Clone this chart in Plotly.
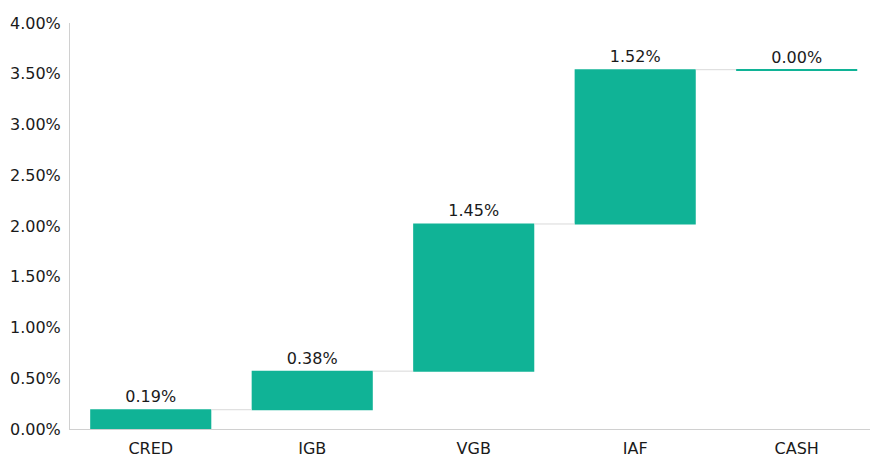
import plotly.graph_objects as go

categories = ["CRED", "IGB", "VGB", "IAF", "CASH"]
values = [0.19, 0.38, 1.45, 1.52, 0.00]
labels = [f"{v:.2f}%" for v in values]
tick_vals = [0, 0.5, 1.0, 1.5, 2.0, 2.5, 3.0, 3.5, 4.0]
tick_text = [f"{t:.2f}%" for t in tick_vals]

green = "#10B396"
FONT = "DejaVu Sans"

# cumulative levels (for marking zero-size steps as a thin line)
cum = []
s = 0.0
for v in values:
    s += v
    cum.append(s)
zero_x = [c for c, v in zip(categories, values) if v == 0]
zero_base = [cm for cm, v in zip(cum, values) if v == 0]
thick = 0.014

fig = go.Figure()
fig.add_trace(go.Waterfall(
    x=categories,
    y=values,
    measure=["relative"] * len(values),
    text=labels,
    textposition="outside",
    textfont=dict(size=16, color="#1a1a1a", family=FONT),
    increasing=dict(marker=dict(color=green)),
    decreasing=dict(marker=dict(color=green)),
    totals=dict(marker=dict(color=green)),
    connector=dict(line=dict(color="#d9d9d9", width=1), mode="between"),
    cliponaxis=False,
    hoverinfo="skip",
))
fig.add_trace(go.Bar(
    x=zero_x,
    y=[thick] * len(zero_x),
    base=[b - thick / 2 for b in zero_base],
    marker=dict(color=green, line=dict(width=0)),
    hoverinfo="skip",
))

fig.update_layout(
    width=870, height=459,
    margin=dict(l=69.5, r=0, t=23, b=30),
    plot_bgcolor="white", paper_bgcolor="white",
    font=dict(family=FONT, size=16, color="#1a1a1a"),
    showlegend=False,
    bargap=0.25,
    waterfallgap=0.25,
    xaxis=dict(
        range=[-0.5, 4.454],
        showline=True, linecolor="#d0d0d0", linewidth=1,
        showgrid=False, ticks="", tickfont=dict(size=16),
        automargin=False, ticklabelstandoff=5,
    ),
    yaxis=dict(
        range=[0, 4.0],
        tickvals=tick_vals, ticktext=tick_text,
        showline=True, linecolor="#d0d0d0", linewidth=1,
        showgrid=False, zeroline=False, ticks="",
        tickfont=dict(size=16), automargin=False, ticklabelstandoff=5,
    ),
)

fig.write_html(
    "out.html",
    config={"displayModeBar": False},
    post_script="document.body.style.margin='0';document.body.style.overflow='hidden';",
)
